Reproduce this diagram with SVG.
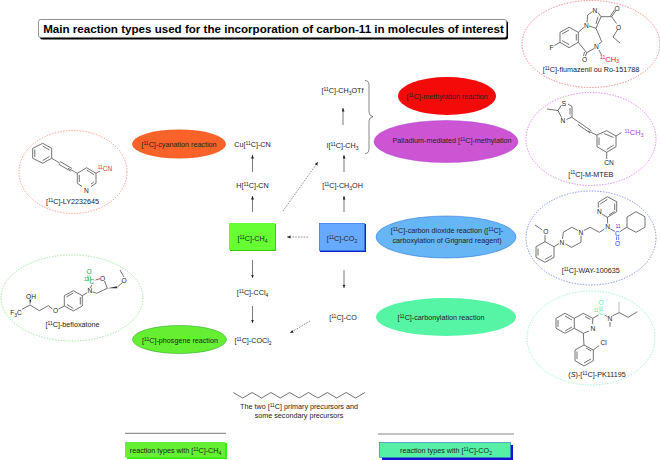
<svg xmlns="http://www.w3.org/2000/svg" width="660" height="460" viewBox="0 0 660 460">
<style>
text{font-family:"Liberation Sans",Arial,sans-serif;font-size:7.2px;fill:#222;text-anchor:middle}
.t{font-size:11.6px;font-weight:bold;fill:#000}
.a{font-size:6.6px;text-anchor:middle}
.b{fill:none;stroke:#444;stroke-width:.75}
.arr{fill:none;stroke:#222;stroke-width:.6;marker-end:url(#ah)}
.dash{fill:none;stroke:#444;stroke-width:.6;stroke-dasharray:1.6 1.2;marker-end:url(#ah)}
.ring{fill:#fff;stroke-width:.8;stroke-dasharray:1.4 1.4}
.s{font-size:5px}
</style>
<defs>
<marker id="ah" markerUnits="userSpaceOnUse" markerWidth="4" markerHeight="4" refX="3.500" refY="1.500" orient="auto"><path d="M0 0L3.500 1.500L0 3Z" fill="#222"/></marker>
</defs>
<rect width="660" height="460" fill="#fff"/>
<g id="title">
<rect x="40" y="21" width="468" height="18.500" rx="2" fill="#000"/>
<rect x="38.500" y="19.500" width="468" height="18" rx="2" fill="#fff" stroke="#777" stroke-width=".8"/>
<text class="t" x="273.500" y="33">Main reaction types used for the incorporation of carbon-11 in molecules of interest</text>
</g>
<g id="connectors">
<path class="arr" d="M252.500 212V196"/>
<path class="arr" d="M252.500 172V155"/>
<path class="arr" d="M344 212V196"/>
<path class="arr" d="M344 172V155"/>
<path class="arr" d="M343 125V108"/>
<path class="arr" d="M252.500 260V278"/>
<path class="arr" d="M252.500 306V323"/>
<path class="arr" d="M344 270V288"/>
<path class="dash" d="M308 237H287"/>
<path class="dash" d="M283 211L318 162"/>
<path class="dash" d="M310 321L290 333"/>
<path d="M365 80.500Q369 80.500 369 85V112Q369 116 373 116.700Q369 117.500 369 121V149Q369 153.500 365 153.500" fill="none" stroke="#555" stroke-width=".7"/>
</g>
<g id="cuCN"><text x="252.500" y="147">Cu[<tspan class="s" dy="-2.500">11</tspan><tspan dy="2.500">C]-CN</tspan></text></g>
<g id="hCN"><text x="252.500" y="188">H[<tspan class="s" dy="-2.500">11</tspan><tspan dy="2.500">C]-CN</tspan></text></g>
<g id="ch4">
<rect x="230" y="224" width="46" height="27" fill="#33cc11"/>
<rect x="229" y="223" width="46" height="27" fill="#66ff33"/>
<text x="252.500" y="241">[<tspan class="s" dy="-2.500">11</tspan><tspan dy="2.500">C]-CH</tspan><tspan class="s" dy="1.500">4</tspan></text>
</g>
<g id="co2">
<rect x="320" y="224" width="46" height="28" fill="#1122cc"/>
<rect x="319.500" y="223.500" width="45" height="27" fill="#66aaff" stroke="#3377ee" stroke-width=".8"/>
<text x="342" y="241">[<tspan class="s" dy="-2.500">11</tspan><tspan dy="2.500">C]-CO</tspan><tspan class="s" dy="1.500">2</tspan></text>
</g>
<g id="ccl4"><text x="252.500" y="295">[<tspan class="s" dy="-2.500">11</tspan><tspan dy="2.500">C]-CCl</tspan><tspan class="s" dy="1.500">4</tspan></text></g>
<g id="cocl2"><text x="253" y="343">[<tspan class="s" dy="-2.500">11</tspan><tspan dy="2.500">C]-COCl</tspan><tspan class="s" dy="1.500">2</tspan></text></g>
<g id="co"><text x="343" y="320">[<tspan class="s" dy="-2.500">11</tspan><tspan dy="2.500">C]-CO</tspan></text></g>
<g id="ch3oh"><text x="342.500" y="188">[<tspan class="s" dy="-2.500">11</tspan><tspan dy="2.500">C]-CH</tspan><tspan class="s" dy="1.500">3</tspan><tspan dy="-1.500">OH</tspan></text></g>
<g id="ich3"><text x="342.500" y="148">I[<tspan class="s" dy="-2.500">11</tspan><tspan dy="2.500">C]-CH</tspan><tspan class="s" dy="1.500">3</tspan></text></g>
<g id="ch3otf"><text x="342.500" y="93">[<tspan class="s" dy="-2.500">11</tspan><tspan dy="2.500">C]-CH</tspan><tspan class="s" dy="1.500">3</tspan><tspan dy="-1.500">OTf</tspan></text></g>

<g id="cyanation"><ellipse cx="179" cy="144" rx="47" ry="14.500" fill="#f96228"/>
<text x="179" y="147">[<tspan class="s" dy="-2.500">11</tspan><tspan dy="2.500">C]-cyanation reaction</tspan></text></g>
<g id="phosgene"><ellipse cx="179.500" cy="339.500" rx="47" ry="14" fill="#66ee33" stroke="#33aa33" stroke-width=".6"/>
<text x="180" y="343">[<tspan class="s" dy="-2.500">11</tspan><tspan dy="2.500">C]-phosgene reaction</tspan></text></g>
<g id="methylation"><ellipse cx="447" cy="96" rx="49" ry="19" fill="#f50a0a"/>
<text x="447" y="99">[<tspan class="s" dy="-2.500">11</tspan><tspan dy="2.500">C]-methylation reaction</tspan></text></g>
<g id="palladium"><ellipse cx="446" cy="141.500" rx="72" ry="21" fill="#cc55d4" stroke="#b040d0" stroke-width=".5"/>
<text x="452" y="143">Palladium-mediated [<tspan class="s" dy="-2.500">11</tspan><tspan dy="2.500">C]-methylation</tspan></text></g>
<g id="carbondioxide"><ellipse cx="446" cy="237" rx="70" ry="21" fill="#66b5f5" stroke="#3377dd" stroke-width=".6"/>
<text x="447" y="233">[<tspan class="s" dy="-2.500">11</tspan><tspan dy="2.500">C]-carbon dioxide reaction ([</tspan><tspan class="s" dy="-2.500">11</tspan><tspan dy="2.500">C]-</tspan></text>
<text x="447" y="243">carboxylation of Grignard reagent)</text></g>
<g id="carbonylation"><ellipse cx="446" cy="317" rx="70" ry="19" fill="#55f5a5"/>
<text x="441" y="320">[<tspan class="s" dy="-2.500">11</tspan><tspan dy="2.500">C]-carbonylation reaction</tspan></text></g>

<g id="ly2232645">
<ellipse class="ring" cx="73" cy="172" rx="54" ry="41.500" stroke="#f08a70"/>
<path class="b" d="M42.700 143.300L51.700 148.300V158.300L42.700 163.300L32.700 158.300V148.300ZM42.700 146L49.500 150M49.500 156.500L42.700 160.500M34.800 149.500V157M51.700 158.300L60 163.200M60 161.500L72 168.500M58.700 164.200L70.700 171.200M68 168.200L77.300 173.300L86.700 167.700L96 173.300V183.300L91 186.500M82 186.500L77.300 183.300V173.300M79.300 175V182M86.700 170L93.800 174.500M91 184L93.800 182M96 173.300L100 171"/>
<text class="a" x="86.500" y="192.500">N</text>
<text class="a" x="105" y="171" style="fill:#e8401a"><tspan class="s" dy="-2.500">11</tspan><tspan dy="2.500">CN</tspan></text>
<text x="72.500" y="204">[<tspan class="s" dy="-2.500">11</tspan><tspan dy="2.500">C]-LY2232645</tspan></text>
</g>

<g id="befloxatone">
<ellipse class="ring" cx="72" cy="298" rx="71" ry="43" stroke="#88dd88"/>
<path class="b" d="M22 309.300L30 305L39.300 310.700L48.300 305.700L52.500 309M58.500 309L64.300 306V295.700L73.300 290.700L82.300 295.700V306L73.300 311L64.300 306M66.300 297L73.300 293M80.300 297V304.500M67 304.500L73.300 308.500M82.300 295.700L87 292.700M92.500 292L96.700 293.300L107.300 288.300L104.500 281M100 278.700L95.500 280M107.300 288.300M118 286.500L122.500 282.500M124 277L120 270M90.500 288L91.500 285"/>
<path d="M107.300 288.300L117.300 286.300L117.300 288.300Z" fill="#333"/>
<path d="M30 305L29.300 299.500L31.300 299.500Z" fill="#333"/>
<path d="M88.800 280.500L87.800 275.500M91 280.500L90 275.500" fill="none" stroke="#22aa44" stroke-width=".7"/>
<text class="a" x="31" y="298.500">OH</text>
<text class="a" x="16" y="315">F<tspan class="s" dy="1.500">3</tspan><tspan dy="-1.500">C</tspan></text>
<text class="a" x="55.500" y="313">O</text>
<text class="a" x="90" y="293">N</text>
<text class="a" x="102.500" y="281">O</text>
<text class="a" x="124" y="282.500">O</text>
<text class="a" x="89" y="273.500" style="fill:#22aa44">O</text>
<text class="a" x="92" y="283.500" style="fill:#22aa44">C</text>
<text class="s" x="86.500" y="280.500" style="fill:#22aa44">11</text>
<text x="72.500" y="327">[<tspan class="s" dy="-2.500">11</tspan><tspan dy="2.500">C]-befloxatone</tspan></text>
</g>

<g id="flumazenil">
<ellipse class="ring" cx="591" cy="44" rx="69" ry="43.500" stroke="#f06a6a"/>
<path class="b" d="M560 32.300L569 27.300L578.300 32.300V42.300L569 47.700L560 42.300ZM562 34L569 30M576.300 34V40.500M562 40.500L569 44.500M560 42.300L554.300 45.700M578.300 32.300L584 27.300M587 22.500L587.700 15L592.500 11.500M598 12.500L601 16.700L596 28.300L589 26M598 16.700L596 24M601 16.700H611.700L616 10.500M610.500 16L614.500 10M611.700 16.700L616.500 23.500M618 29L613 37L620 43M596 28.300L601.700 41.700L599 44M594 48.500L586.700 52.700L578.300 42.300M586.700 52.700L585.500 56M584.500 52L583.500 56M599 50L601.500 55"/>
<text class="a" x="551.500" y="50">F</text>
<text class="a" x="586.500" y="27.500">N</text>
<text class="a" x="595" y="12.500">N</text>
<text class="a" x="617" y="11">O</text>
<text class="a" x="618.500" y="29.500">O</text>
<text class="a" x="596.500" y="48.500">N</text>
<text class="a" x="584.500" y="61.500">O</text>
<text x="609.500" y="61.500" style="fill:#ee1111;font-size:7.500px"><tspan class="s" dy="-2.500">11</tspan><tspan dy="2.500">CH</tspan><tspan class="s" dy="1.500">3</tspan></text>
<text x="591" y="72">[<tspan class="s" dy="-2.500">11</tspan><tspan dy="2.500">C]-flumazenil ou Ro-151788</tspan></text>
</g>

<g id="mteb">
<ellipse class="ring" cx="591" cy="139" rx="65" ry="46.500" stroke="#dd66ee"/>
<path class="b" d="M547 109L558 110.500L561.500 105M558 110.500L561.500 117.500M566.500 119.500L572 117L572 106.500L568 104M570 114.500L570 108M572 117.500L580 123M578 124.500L590 133M579.500 122.500L591.500 131M588 131L596.700 135L606.700 130.700L616 136V146.700L606.700 152.300L597 146.700V135M599 137.500V145M604 133.500L613.500 137.500M613.800 145L606.700 149.500M606.700 152.300V159M616 136L621.500 132.500"/>
<text class="a" x="564" y="106">S</text>
<text class="a" x="563" y="123">N</text>
<text class="a" x="609" y="165">CN</text>
<text x="634" y="135" style="fill:#b040d8;font-size:7.500px"><tspan class="s" dy="-2.500">11</tspan><tspan dy="2.500">CH</tspan><tspan class="s" dy="1.500">3</tspan></text>
<text x="590.700" y="176.700">[<tspan class="s" dy="-2.500">11</tspan><tspan dy="2.500">C]-M-MTEB</tspan></text>
</g>

<g id="way100635">
<ellipse class="ring" cx="591" cy="238" rx="65" ry="47" stroke="#6677ee"/>
<path class="b" d="M598.300 207.500V202.300L607.300 196.700L616.700 201.700V211.700L607.300 217.300L602 214M600.300 204L607.300 199.500M614.700 203.500V210M609 215L614.500 211.500M607.300 217.300L607.700 223.500M604.500 229L599.300 232.300L590 227.300L584 230.500M578 230.500L571.700 227.300L563.300 232.300L562.500 239M565.500 244L571.700 247.300L581 242.300V235.500M559 243.500L554 246.700L545 241.700L536 246.700V257.300L545 262.300L554 257.300V246.700M538 248.500V255.500M545 259.500L552 255.500M545 235L545 241.700M542.300 230L535 225"/>
<text class="a" x="599.500" y="213.500">N</text>
<text class="a" x="607.700" y="229">N</text>
<text class="a" x="581" y="234.600">N</text>
<text class="a" x="562" y="244.600">N</text>
<text class="a" x="545.700" y="234">O</text>
<path class="b" d="M610.500 229L615 231.500M620 231.500L626.700 227.300L636 232.300L645 227.300V216.700L636 211.700L627 217V227.300"/>
<path d="M616.500 236.500V240M618.500 236.500V240" stroke="#3355dd" stroke-width=".7" fill="none"/>
<text class="a" x="617.500" y="235.500" style="fill:#2244dd">C</text>
<text class="s" x="618" y="228" style="fill:#2244dd">11</text>
<text class="a" x="617.500" y="245.500" style="fill:#2244dd">O</text>
<text x="590.700" y="273">[<tspan class="s" dy="-2.500">11</tspan><tspan dy="2.500">C]-WAY-100635</tspan></text>
</g>

<g id="pk11195">
<ellipse class="ring" cx="591" cy="338" rx="64" ry="47" stroke="#88eecc"/>
<path class="b" d="M556 318.300L565 313.300L574.300 318.300V328.300L565 333.300L556 328.300ZM558 320V327M565 316L572 320M565 331L572 327M574.300 318.300L583.300 313.300L592.700 318.300V324M589 331L583.300 333.300L574.300 328.300M585 316.500L590.500 319.500M583.300 333.300L584 345L593.300 350V360.700L584 366L575 360.700V350L584 345M577 351.500V359M584 363L591 359M586 348L591.300 351M593.300 350L599.300 345.500M592.700 318.300L598.500 315M604.500 315L607.500 316.700M610 322L610 326.700M612.500 315.800L619.300 312.700L628.300 317.300L637.300 311.700"/>
<path class="b" d="M619 312.500V302" stroke-dasharray="1 1"/>
<path d="M600 310L600 306M602 310L602 306" fill="none" stroke="#55eeaa" stroke-width=".7"/>
<text class="a" x="610" y="320.500">N</text>
<text class="a" x="593" y="330.500">N</text>
<text class="a" x="603.500" y="345.200">Cl</text>
<text class="a" x="601" y="304.500" style="fill:#55eeaa">O</text>
<text class="a" x="601.500" y="315" style="fill:#55eeaa">C</text>
<text class="s" x="596" y="312" style="fill:#55eeaa">11</text>
<text x="597" y="377">(<tspan font-style="italic">S</tspan>)-[<tspan class="s" dy="-2.500">11</tspan><tspan dy="2.500">C]-PK11195</tspan></text>
</g>

<g id="precursors-note">
<path class="b" d="M233.300 392.500l9.400 5.500 9.400-5.500 9.400 5.500 9.400-5.500 9.400 5.500 9.400-5.500 9.400 5.500 9.400-5.500 9.400 5.500 9.400-5.500 9.400 5.500 9.400-5.500 9.400 5.500 9.400-5.500"/>
<text x="299" y="409">The two [<tspan class="s" dy="-2.500">11</tspan><tspan dy="2.500">C] primary precursors and</tspan></text>
<text x="299" y="418">some secondary precursors</text>
</g>
<g id="legend-ch4">
<path d="M125 433.300H226" stroke="#555" stroke-width=".8"/>
<rect x="127" y="443" width="100" height="16" fill="#33ee11"/>
<rect x="125" y="442" width="100" height="15.500" fill="#66f033"/>
<text x="175.500" y="453">reaction types with [<tspan class="s" dy="-2.500">11</tspan><tspan dy="2.500">C]-CH</tspan><tspan class="s" dy="1.500">4</tspan></text>
</g>
<g id="legend-co2">
<path d="M378 434H514" stroke="#667" stroke-width=".8"/>
<rect x="382" y="445" width="131" height="15" fill="#1111cc"/>
<rect x="379.500" y="442.500" width="131" height="15" fill="#55f0a5" stroke="#3388cc" stroke-width=".7"/>
<text x="446" y="453">reaction types with [<tspan class="s" dy="-2.500">11</tspan><tspan dy="2.500">C]-CO</tspan><tspan class="s" dy="1.500">2</tspan></text>
</g>
</svg>
